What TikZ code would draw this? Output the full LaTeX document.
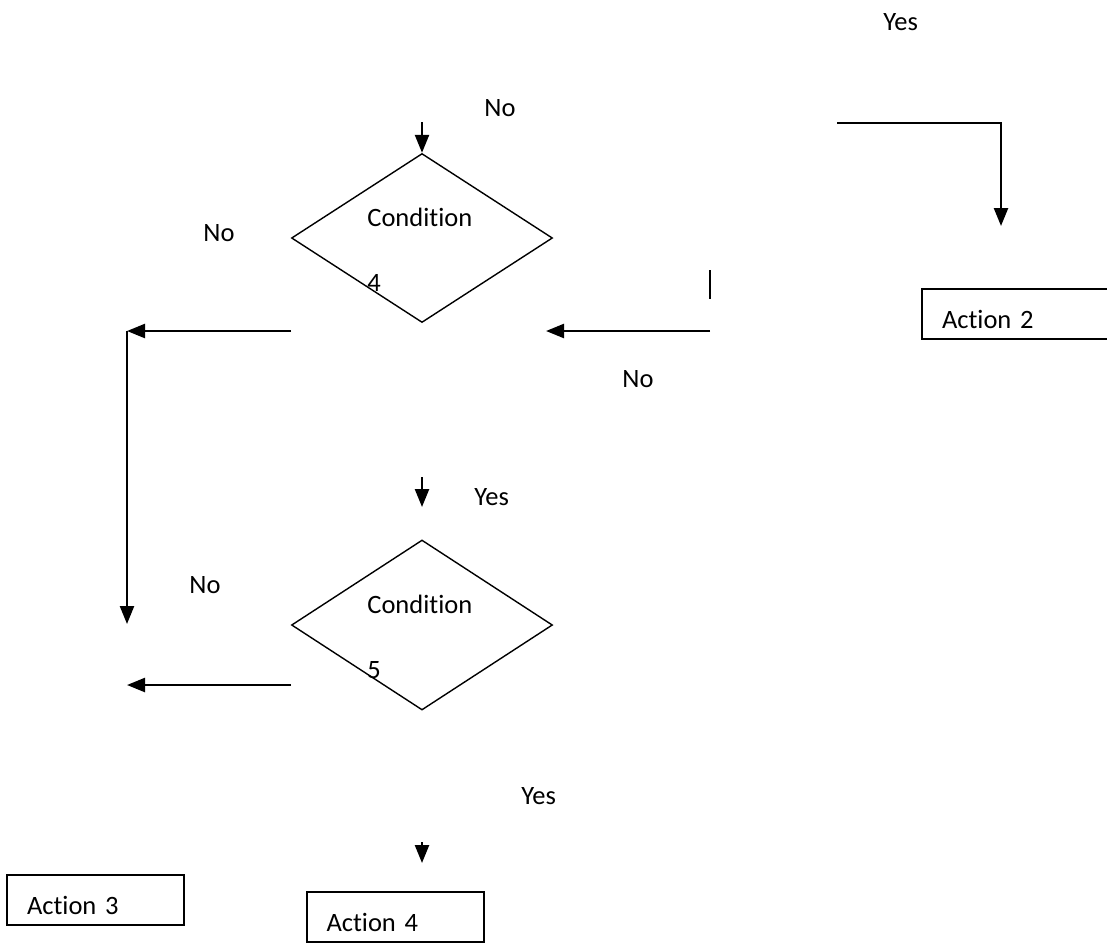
\documentclass[tikz,border=0pt]{standalone}
\usepackage{fontspec}
\setmainfont{Carlito}[RawFeature={-liga;-clig;-calt;-dlig;-rlig}]
\usetikzlibrary{shapes.geometric,arrows.meta}

\begin{document}
\begin{tikzpicture}[x=0.5pt, y=-0.5pt, font=\fontsize{13.25}{15}\selectfont,
  arr/.style={line width=1.2pt, -{Triangle[length=9pt, width=7pt]}},
  lbl/.style={anchor=base west, inner sep=0pt},
  cond/.style={diamond, draw, line width=0.7pt, inner sep=0pt, minimum width=130.5pt, minimum height=84.5pt},
  action/.style={rectangle, draw, line width=1pt, inner xsep=10pt, inner ysep=2pt, text width=68.5pt, align=left, minimum height=25pt, text height=14pt, text depth=0pt}]
  \clip (0,0) rectangle (1107,943);
  \node[cond] (cond4) at (422,238) {};
  \node[cond, minimum height=85pt] (cond5) at (422,625) {};
  \node[lbl] (cond4txt) at (367,226) {Condition};
  \node[lbl] (cond4num) at (367,291) {4};
  \node[lbl] (cond5txt) at (367,613) {Condition};
  \node[lbl] (cond5num) at (367,678) {5};
  \node[action, text width=80pt] (act2) at (1022,314) {Action 2};
  \node[action] (act3) at (95.5,900) {Action 3};
  \node[action] (act4) at (395,917) {Action 4};
  \node[lbl] (yes1) at (883,30) {Yes};
  \node[lbl] (no1) at (484,116) {No};
  \node[lbl] (no2) at (203,241) {No};
  \node[lbl] (no3) at (622,387) {No};
  \node[lbl] (yes2) at (474,505) {Yes};
  \node[lbl] (no4) at (189,593) {No};
  \node[lbl] (yes3) at (521,804) {Yes};
  \coordinate (in4) at (422,122);
  \coordinate (out4) at (291,331);
  \coordinate (left4) at (127,331);
  \coordinate (left4down) at (127,624);
  \coordinate (stubtop) at (710,270);
  \coordinate (stubbot) at (710,299);
  \coordinate (back4) at (710,331);
  \coordinate (back4tip) at (546,331);
  \coordinate (yesline) at (837,123);
  \coordinate (act2in) at (1001,226);
  \coordinate (in5) at (422,477);
  \coordinate (in5tip) at (422,507);
  \coordinate (out5) at (291,685);
  \coordinate (left5) at (127,685);
  \coordinate (in6) at (422,842);
  \coordinate (in6tip) at (422,863);
  \draw[arr] (in4) -- (cond4.north);
  \draw[arr] (out4) -- (left4);
  \draw[arr] (left4) -- (left4down);
  \draw[line width=1.2pt] (stubtop) -- (stubbot);
  \draw[arr] (back4) -- (back4tip);
  \draw[arr] (yesline) -| (act2in);
  \draw[arr] (in5) -- (in5tip);
  \draw[arr] (out5) -- (left5);
  \draw[arr] (in6) -- (in6tip);
\end{tikzpicture}
\end{document}
